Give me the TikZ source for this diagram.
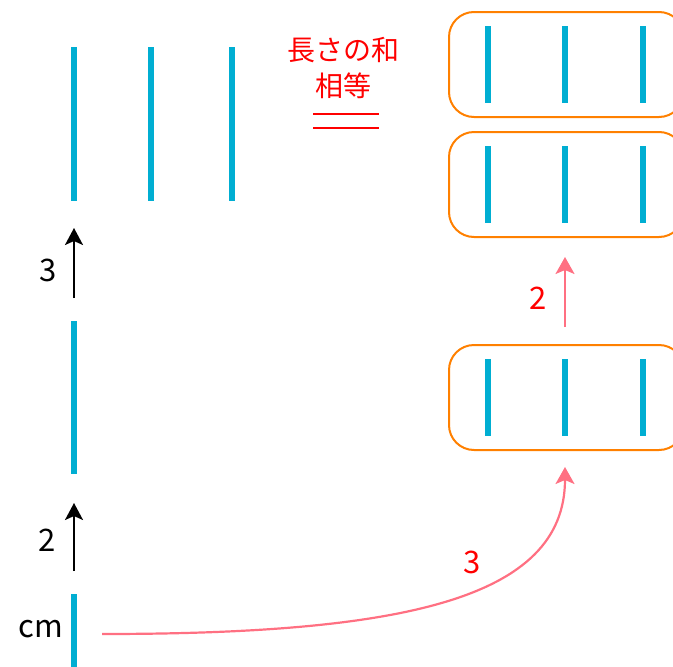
\documentclass[tikz,border=0pt]{standalone}
\usepackage{fontspec}
\setmainfont{Noto Sans CJK JP}
\usetikzlibrary{arrows.meta}
\definecolor{segc}{RGB}{0,174,210}
\definecolor{boxc}{RGB}{255,128,0}
\definecolor{pinkc}{RGB}{255,112,130}
\definecolor{redc}{RGB}{255,0,0}
\tikzset{
  seg/.style={draw=segc, line width=6pt},
  grp/.style={draw=boxc, line width=2pt, rounded corners=25pt},
  blackarrow/.style={draw=black, line width=2.2pt, -{Stealth[length=17pt,width=18pt,inset=4pt]}},
  pinkarrow/.style={draw=pinkc, line width=2.2pt, -{Stealth[length=17pt,width=19pt,inset=4pt]}},
  lbl/.style={font=\fontsize{31}{36}\selectfont, inner sep=0pt},
  jlbl/.style={font=\fontsize{28}{36}\selectfont, inner sep=0pt, text=redc, align=center},
}
\begin{document}
\begin{tikzpicture}[x=1pt,y=-1pt]
\useasboundingbox (0,0) rectangle (673,667);
% left column top group (3 x 2 units)
\foreach \x in {74,151,232}{
  \draw[seg] (\x,47) -- (\x,124);
  \draw[seg] (\x,124) -- (\x,201);
}
% left column middle (2 units)
\draw[seg] (74,321) -- (74,397);
\draw[seg] (74,397) -- (74,474);
% bottom unit
\draw[seg] (74,594) -- (74,667);
\node[lbl, anchor=east] (cm) at (63,629) {cm};

% black arrows
\coordinate (b2s) at (74,571);
\coordinate (b2e) at (74,503);
\draw[blackarrow] (b2s) -- (b2e);
\node[lbl] (l2) at (47,540) {2};
\coordinate (b3s) at (74,298);
\coordinate (b3e) at (74,228);
\draw[blackarrow] (b3s) -- (b3e);
\node[lbl] (l3) at (48,270) {3};

% Japanese label
\node[jlbl] (jp) at (343,68) {長さの和\\相等};
\draw[redc, line width=1.6pt] (313,114) -- (379,114);
\draw[redc, line width=1.6pt] (313,128) -- (379,128);

% right groups
\node[grp, minimum width=235pt, minimum height=105pt, anchor=north west] (g1) at (448,11) {};
\node[grp, minimum width=235pt, minimum height=105pt, anchor=north west] (g2) at (448,131) {};
\node[grp, minimum width=235pt, minimum height=105pt, anchor=north west] (g3) at (448,344) {};
\foreach \x in {488,565,643}{
  \draw[seg] (\x,26) -- (\x,103);
  \draw[seg] (\x,146) -- (\x,223);
  \draw[seg] (\x,359) -- (\x,436);
}

% pink arrows
\coordinate (p2s) at (565,327);
\coordinate (p2e) at (565,257);
\draw[pinkarrow] (p2s) -- (p2e);
\node[lbl, text=redc] (r2) at (538,298) {2};

\coordinate (cs) at (102,634);
\coordinate (ce) at (565,467);
\draw[pinkarrow] (cs) .. controls (400,634) and (565,600) .. (ce);
\node[lbl, text=redc] (r3) at (472,562) {3};
\end{tikzpicture}
\end{document}
